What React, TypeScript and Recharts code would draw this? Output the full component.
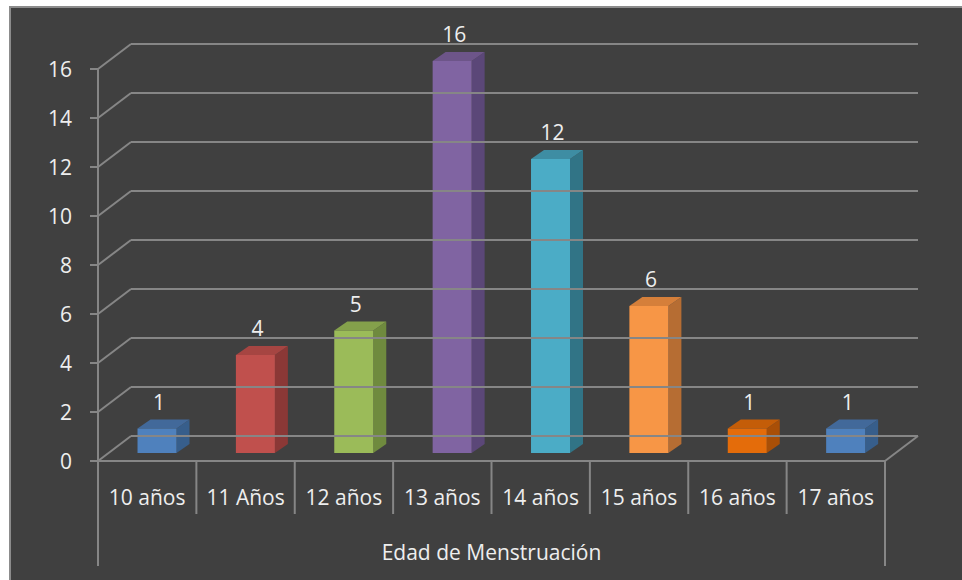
import React from "react";
import { BarChart, Bar, XAxis, YAxis, Cell, LabelList } from "recharts";

const categories = ["10 años", "11 Años", "12 años", "13 años", "14 años", "15 años", "16 años", "17 años"];
const counts = [1, 4, 5, 16, 12, 6, 1, 1];
const yTicks = [0, 2, 4, 6, 8, 10, 12, 14, 16];

// front / side / top shades per bar
const frontColors = ["#4f81bd", "#c0504d", "#9bbb59", "#8064a2", "#4bacc6", "#f79646", "#e46c0a", "#4f81bd"];
const sideColors = ["#375e8b", "#8b3836", "#6f8a3e", "#5b4778", "#317486", "#b66d33", "#a94f07", "#375e8b"];
const topColors = ["#42699a", "#a64542", "#84a04b", "#6d5589", "#3e8da3", "#d57f3a", "#c45d08", "#42699a"];

const data = categories.map((name, i) => ({ name, value: counts[i] }));

const W = 962;
const H = 580;
const AXIS_X = 98; // front value axis
const FLOOR_Y = 461; // front edge of floor (value 0)
const PLOT_RIGHT = 885;
const DEPTH_X = 33; // wall depth offset
const DEPTH_Y = -25;
const BAR_SHIFT_X = 10; // bars stand a bit inside the floor
const BAR_SHIFT_Y = -8;
const BAR_DX = 13; // bar thickness
const BAR_DY = -9;
const GRID = "#868686";
const TEXT = "#eeeeee";
const FONT = "'Open Sans', 'Noto Sans', sans-serif";
const FS = 21;

const YTick = (props: any) => {
  const { y, payload } = props;
  const isZero = payload.value === 0;
  return (
    <g>
      <text x={72} y={y} textAnchor="end" dominantBaseline="central" fill={TEXT} fontSize={FS} fontFamily={FONT}>
        {payload.value}
      </text>
      <line x1={AXIS_X - 8} y1={y} x2={AXIS_X} y2={y} stroke={GRID} strokeWidth={2} />
      <line x1={AXIS_X} y1={y} x2={AXIS_X + DEPTH_X} y2={y + DEPTH_Y} stroke={GRID} strokeWidth={2} />
      <line x1={AXIS_X + DEPTH_X} y1={y + DEPTH_Y} x2={PLOT_RIGHT + DEPTH_X} y2={y + DEPTH_Y} stroke={GRID} strokeWidth={2} />
      {isZero && (
        <>
          <line x1={AXIS_X} y1={y} x2={PLOT_RIGHT} y2={y} stroke={GRID} strokeWidth={2} />
          <line x1={PLOT_RIGHT} y1={y} x2={PLOT_RIGHT + DEPTH_X} y2={y + DEPTH_Y} stroke={GRID} strokeWidth={2} />
        </>
      )}
    </g>
  );
};

const band = (PLOT_RIGHT - AXIS_X) / categories.length;

const XTick = (props: any) => {
  const { x, payload, index } = props;
  const left = x - band / 2;
  const right = x + band / 2;
  const last = index === categories.length - 1;
  return (
    <g>
      <line x1={left} y1={FLOOR_Y} x2={left} y2={index === 0 ? 566 : 514} stroke={GRID} strokeWidth={2} />
      {last && <line x1={right} y1={FLOOR_Y} x2={right} y2={566} stroke={GRID} strokeWidth={2} />}
      <text x={x} y={497} textAnchor="middle" dominantBaseline="central" fill={TEXT} fontSize={FS} fontFamily={FONT}>
        {payload.value}
      </text>
    </g>
  );
};

const Box3D = (props: any) => {
  const { x, y, width, height, index } = props;
  if (height <= 0) return null;
  const fx = x + BAR_SHIFT_X;
  const fy = y + BAR_SHIFT_Y;
  const top = `M${fx},${fy} L${fx + BAR_DX},${fy + BAR_DY} L${fx + width + BAR_DX},${fy + BAR_DY} L${fx + width},${fy} Z`;
  const side = `M${fx + width},${fy} L${fx + width + BAR_DX},${fy + BAR_DY} L${fx + width + BAR_DX},${fy + height + BAR_DY} L${fx + width},${fy + height} Z`;
  return (
    <g>
      <path d={side} fill={sideColors[index]} />
      <path d={top} fill={topColors[index]} />
      <rect x={fx} y={fy} width={width} height={height} fill={frontColors[index]} />
    </g>
  );
};

const ValueLabel = (props: any) => {
  const { x, y, width, value } = props;
  return (
    <text
      x={x + width / 2 + BAR_SHIFT_X + 2}
      y={y + BAR_SHIFT_Y + BAR_DY - 18}
      textAnchor="middle"
      dominantBaseline="central"
      fill={TEXT}
      fontSize={FS}
      fontFamily={FONT}
    >
      {value}
    </text>
  );
};

export default function App() {
  return (
    <div style={{ position: "absolute", left: 0, top: 0, width: W, height: H, background: "#ffffff", overflow: "hidden" }}>
      <div
        style={{
          position: "absolute",
          left: 9,
          top: 6,
          width: W - 9,
          height: H - 6,
          background: "#404040",
          borderLeft: "2px solid #8c8c8c",
          borderTop: "2px solid #8c8c8c",
          boxSizing: "border-box",
        }}
      />
      <div style={{ position: "absolute", left: 0, top: 0 }}>
        <BarChart width={W} height={H} data={data} margin={{ top: 69, right: W - PLOT_RIGHT, bottom: 0, left: 8 }} barCategoryGap="30%">
          <YAxis
            width={90}
            domain={[0, 16]}
            ticks={yTicks}
            interval={0}
            axisLine={false}
            tickLine={false}
            tick={<YTick />}
          />
          <XAxis
            dataKey="name"
            height={H - FLOOR_Y}
            axisLine={false}
            tickLine={false}
            interval={0}
            tick={<XTick />}
            label={{ value: "Edad de Menstruación", position: "insideBottom", offset: 20, fill: TEXT, fontSize: FS, fontFamily: FONT }}
          />
          <line x1={AXIS_X} y1={69} x2={AXIS_X} y2={566} stroke={GRID} strokeWidth={2} />
          <Bar dataKey="value" shape={<Box3D />} isAnimationActive={false}>
            {data.map((d, i) => (
              <Cell key={d.name} fill={frontColors[i]} />
            ))}
            <LabelList dataKey="value" content={<ValueLabel />} />
          </Bar>
        </BarChart>
      </div>
    </div>
  );
}
